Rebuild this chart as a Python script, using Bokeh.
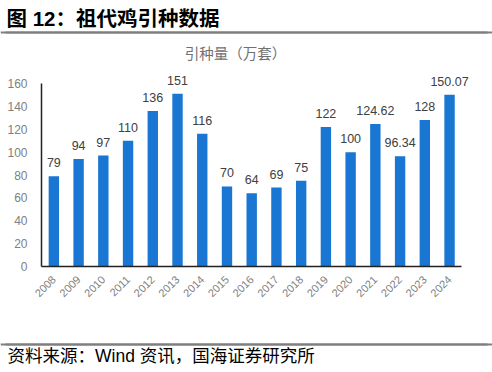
from bokeh.plotting import figure
from bokeh.models import ColumnDataSource, Range1d, FixedTicker, LabelSet, Span
from bokeh.core.properties import value
from bokeh.embed import file_html
from bokeh.resources import INLINE
import math

years = ["2008", "2009", "2010", "2011", "2012", "2013", "2014", "2015", "2016",
         "2017", "2018", "2019", "2020", "2021", "2022", "2023", "2024"]
values = [79, 94, 97, 110, 136, 151, 116, 70, 64, 69, 75, 122, 100, 124.62, 96.34, 128, 150.07]
labels = [f"{v:g}" for v in values]
y_ticks = [0, 20, 40, 60, 80, 100, 120, 140, 160]

title_text = "图 12：祖代鸡引种数据"
subtitle_text = "引种量（万套）"
source_text = "资料来源：Wind 资讯，国海证券研究所"

W, H = 492, 372
AX_LEFT_PX, STEP_PX = 41.0, 24.73
Y0_PX, Y160_PX = 266.0, 83.0
PX_PER_UNIT = (Y0_PX - Y160_PX) / 160.0

def px_x(px):
    return -0.5 + (px - AX_LEFT_PX) / STEP_PX

def px_y(py):
    return (Y0_PX - py) / PX_PER_UNIT

idx = list(range(len(years)))
src = ColumnDataSource(dict(x=idx, value=values, label=labels))

p = figure(width=W, height=H, x_range=Range1d(px_x(0), px_x(W)), y_range=Range1d(px_y(H), px_y(0)),
           output_backend="svg", toolbar_location=None,
           min_border_left=0, min_border_right=0, min_border_top=0, min_border_bottom=0)
p.outline_line_color = None
p.xgrid.visible = False
p.ygrid.visible = False
p.background_fill_color = "white"
p.border_fill_color = "white"

# horizontal rules under the title and above the source
rule_rows = [32, 344]
p.hbar(y=[px_y(r) for r in rule_rows], left=px_x(5), right=px_x(487),
       height=2.2 / PX_PER_UNIT, fill_color="#7f7f7f", line_color=None)
for r in rule_rows:
    p.add_layout(Span(location=px_y(r), dimension="width", line_color="#7f7f7f", line_width=2))

# bars and value labels
p.vbar(x="x", top="value", width=0.42, source=src, fill_color="#1976D2", line_color=None)
p.add_layout(LabelSet(x="x", y="value", text="label", source=src, text_align="center",
                      text_baseline="alphabetic", y_offset=9, text_font=value("Liberation Sans"),
                      text_font_size="12.5px", text_color="#404040"))

# axes
xa, ya = p.xaxis[0], p.yaxis[0]
for ax in (xa, ya):
    ax.axis_line_color = "#222222"
    ax.axis_line_width = 1.5
    ax.major_tick_line_color = None
    ax.minor_tick_line_color = None
    ax.major_label_text_font = "Liberation Sans"
    ax.major_label_text_color = "#808080"

ya.fixed_location = -0.5
ya.bounds = (0, 160)
ya.ticker = FixedTicker(ticks=y_ticks)
ya.major_label_text_font_size = "12px"
ya.major_label_standoff = 8

xa.fixed_location = 0
xa.bounds = (-0.5, len(years) - 0.5)
xa.ticker = FixedTicker(ticks=idx)
xa.major_label_overrides = {i: y for i, y in zip(idx, years)}
xa.major_label_orientation = math.pi / 4
xa.major_label_text_font_size = "11px"
xa.major_label_standoff = 5

# title, subtitle, source
p.text(x=[px_x(6)], y=[px_y(18)], text=[title_text], text_font=value("Liberation Sans, Noto Sans CJK SC"),
       text_font_style="bold", text_font_size="20.5px", text_color="#000000",
       text_baseline="middle", text_align="left")
p.text(x=[px_x(235)], y=[px_y(52)], text=[subtitle_text], text_font=value("Noto Sans CJK SC"),
       text_font_size="14.5px", text_color="#707070", text_baseline="middle", text_align="center")
p.text(x=[px_x(7)], y=[px_y(355)], text=[source_text], text_font=value("Liberation Sans, Noto Sans CJK SC"),
       text_font_size="17.5px", text_color="#000000", text_baseline="middle", text_align="left")

open("out.html", "w").write(file_html(p, INLINE))
